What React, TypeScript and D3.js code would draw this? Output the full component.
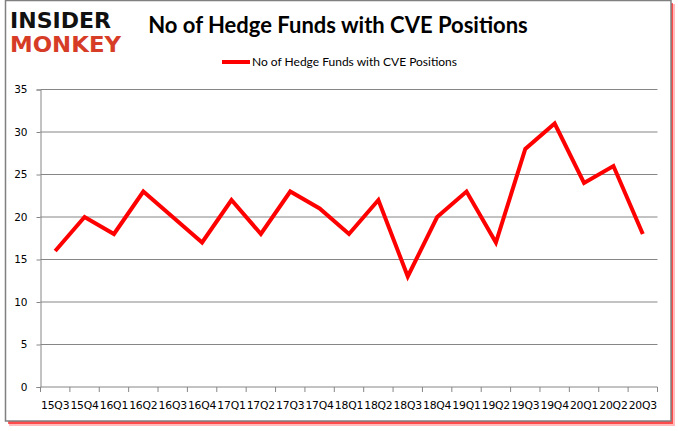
import React, { useEffect, useRef } from 'react';
import * as d3 from 'd3';

const quarters = [
  '15Q3', '15Q4', '16Q1', '16Q2', '16Q3', '16Q4', '17Q1', '17Q2', '17Q3', '17Q4',
  '18Q1', '18Q2', '18Q3', '18Q4', '19Q1', '19Q2', '19Q3', '19Q4', '20Q1', '20Q2', '20Q3',
];
const hedgeFunds = [16, 20, 18, 23, 20, 17, 22, 18, 23, 21, 18, 22, 13, 20, 23, 17, 28, 31, 24, 26, 18];
const yTicks = [0, 5, 10, 15, 20, 25, 30, 35];
const seriesName = 'No of Hedge Funds with CVE Positions';
const chartTitle = 'No of Hedge Funds with CVE Positions';

const W = 678;
const H = 431;

export default function App() {
  const svgRef = useRef<SVGSVGElement | null>(null);

  // plot area
  const margin = { top: 89.5, right: 20.5, bottom: 44, left: 40.5 };
  const width = W - margin.left - margin.right;
  const height = H - margin.top - margin.bottom;

  useEffect(() => {
    const root = d3.select(svgRef.current);
    root.selectAll('*').remove();

    // frame with red shadow
    root
      .append('rect')
      .attr('x', 9)
      .attr('y', 4)
      .attr('width', 666)
      .attr('height', 422)
      .attr('fill', '#ff3b3b')
      .attr('opacity', 0.35);
    root
      .append('rect')
      .attr('x', 8)
      .attr('y', 3)
      .attr('width', 665)
      .attr('height', 421)
      .attr('fill', '#ff0000')
      .attr('opacity', 0.6);
    root
      .append('rect')
      .attr('x', 5.5)
      .attr('y', 0.5)
      .attr('width', 665.5)
      .attr('height', 420.5)
      .attr('fill', '#fff')
      .attr('stroke', '#808080')
      .attr('stroke-width', 1.5);

    // logo
    const logo = root.append('g').style('font-family', 'DejaVu Sans').style('font-weight', 'bold');
    logo
      .append('text')
      .attr('x', 10)
      .attr('y', 28)
      .attr('textLength', 101)
      .attr('lengthAdjust', 'spacingAndGlyphs')
      .style('font-size', '21px')
      .attr('fill', '#111')
      .text('INSIDER');
    logo
      .append('text')
      .attr('x', 10)
      .attr('y', 52)
      .attr('textLength', 111)
      .attr('lengthAdjust', 'spacingAndGlyphs')
      .style('font-size', '21px')
      .attr('fill', '#d63c26')
      .text('MONKEY');

    // title
    root
      .append('text')
      .attr('x', 338)
      .attr('y', 33)
      .attr('text-anchor', 'middle')
      .style('font-family', 'Lato')
      .style('font-weight', 'bold')
      .style('font-size', '22px')
      .attr('fill', '#000')
      .text(chartTitle);

    // legend
    root
      .append('line')
      .attr('x1', 222)
      .attr('x2', 250)
      .attr('y1', 62)
      .attr('y2', 62)
      .attr('stroke', '#ff0000')
      .attr('stroke-width', 4);
    root
      .append('text')
      .attr('x', 252)
      .attr('y', 66)
      .style('font-family', 'Lato')
      .style('font-size', '12px')
      .attr('fill', '#000')
      .text(seriesName);

    const svg = root.append('g').attr('transform', `translate(${margin.left}, ${margin.top})`);

    // scales
    const xBand = d3.scaleBand().domain(quarters).range([0, width]);
    const yScale = d3.scaleLinear().domain([0, 35]).range([height, 0]);

    // horizontal grid
    svg
      .append('g')
      .selectAll('line')
      .data(yTicks.filter((d) => d > 0))
      .join('line')
      .attr('x1', 0)
      .attr('x2', width)
      .attr('y1', (d) => yScale(d))
      .attr('y2', (d) => yScale(d))
      .attr('stroke', '#868686')
      .attr('stroke-width', 1);

    // Y axis
    svg
      .append('g')
      .call(d3.axisLeft(yScale).tickValues(yTicks).tickSize(4).tickPadding(9))
      .call((g) => g.selectAll('line').attr('stroke', '#868686'))
      .call((g) => g.select('.domain').attr('stroke', '#868686'))
      .call((g) =>
        g
          .selectAll('text')
          .style('font-family', 'DejaVu Sans')
          .style('font-size', '10.5px')
          .attr('fill', '#000'),
      );

    // X axis: ticks at category boundaries
    svg
      .append('g')
      .attr('transform', `translate(0, ${height})`)
      .call((g) =>
        g
          .append('line')
          .attr('x1', 0)
          .attr('x2', width)
          .attr('stroke', '#868686'),
      )
      .call((g) =>
        g
          .selectAll('.bound')
          .data(d3.range(quarters.length + 1))
          .join('line')
          .attr('class', 'bound')
          .attr('x1', (i) => i * xBand.step())
          .attr('x2', (i) => i * xBand.step())
          .attr('y1', 0)
          .attr('y2', 5)
          .attr('stroke', '#868686'),
      )
      .call((g) =>
        g
          .selectAll('.lab')
          .data(quarters)
          .join('text')
          .attr('class', 'lab')
          .attr('x', (d) => (xBand(d) || 0) + xBand.bandwidth() / 2)
          .attr('y', 22)
          .attr('text-anchor', 'middle')
          .style('font-family', 'DejaVu Sans')
          .style('font-size', '10.8px')
          .style('letter-spacing', '-0.2px')
          .attr('fill', '#000')
          .text((d) => d),
      );

    // line
    const line = d3
      .line<number>()
      .x((_, i) => (xBand(quarters[i]) || 0) + xBand.bandwidth() / 2)
      .y((d) => yScale(d));
    svg
      .append('path')
      .datum(hedgeFunds)
      .attr('d', line)
      .attr('fill', 'none')
      .attr('stroke', '#ff0000')
      .attr('stroke-width', 4)
      .attr('stroke-linejoin', 'miter');
  });

  return (
    <svg
      ref={svgRef}
      width={W}
      height={H}
      style={{ position: 'absolute', left: 0, top: 0, background: '#fff' }}
    ></svg>
  );
}
